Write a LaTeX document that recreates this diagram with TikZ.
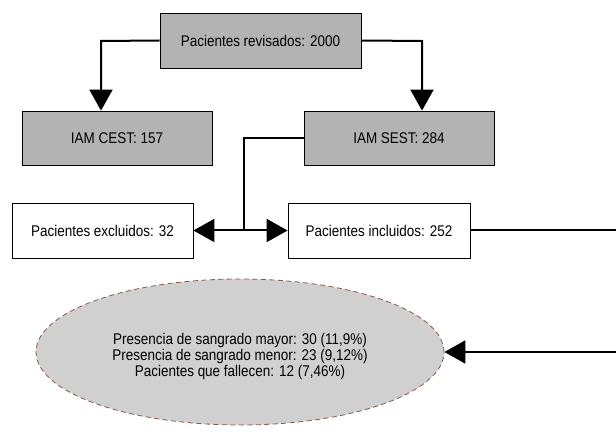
\documentclass[tikz,border=0pt]{standalone}
\usepackage{fontspec}
\usepackage{graphicx}
\setmainfont{Liberation Sans}
\usetikzlibrary{arrows.meta,shapes.geometric}
\definecolor{boxgray}{HTML}{B3B3B3}
\definecolor{ellgray}{HTML}{D0D0D0}
\definecolor{ellborder}{HTML}{8B5A48}
\newcommand{\sqz}[1]{\scalebox{0.87}[1]{#1}}
\tikzset{
  txt/.style={font=\fontsize{15.5}{16}\selectfont},
  graybox/.style={draw=black, line width=0.8pt, fill=boxgray, inner sep=0pt, txt},
  whitebox/.style={draw=black, line width=0.8pt, fill=white, inner sep=0pt, txt},
  conn/.style={draw=black, line width=2pt},
  tip/.style={-{Triangle[length=21pt,width=23pt]}}
}
\begin{document}
\begin{tikzpicture}[x=1pt,y=-1pt]
\path[use as bounding box, clip] (0,0) rectangle (616,435);
\fill[white] (0,0) rectangle (616,435);
\node[graybox, minimum width=201pt, minimum height=55pt] (top) at (260.5,40.5) {\sqz{Pacientes revisados: 2000}};
\node[graybox, minimum width=190pt, minimum height=54pt] (cest) at (117,138) {\sqz{IAM CEST: 157}};
\node[graybox, minimum width=190pt, minimum height=54pt] (sest) at (399,138) {\sqz{IAM SEST: 284}};
\node[whitebox, minimum width=181pt, minimum height=55pt] (excl) at (102.5,230.5) {\sqz{Pacientes excluidos: 32}};
\node[whitebox, minimum width=182pt, minimum height=55pt] (incl) at (379,230.5) {\sqz{Pacientes incluidos: 252}};
\node[ellipse, draw=ellborder, dash pattern=on 5pt off 3.5pt, line width=0.8pt, fill=ellgray, minimum width=408pt, minimum height=146pt, inner sep=0pt, txt] (ell) at (240,352) {\raisebox{-5pt}[\height][\depth]{\begin{tabular}{@{}c@{}}\sqz{Presencia de sangrado mayor: 30 (11,9\%)}\\\sqz{Presencia de sangrado menor: 23 (9,12\%)}\\\sqz{Pacientes que fallecen: 12 (7,46\%)}\end{tabular}}};
\coordinate (a1) at (101,41);
\coordinate (a2) at (422,41);
\coordinate (j) at (244,230.5);
\coordinate (r1) at (620,230.5);
\draw[conn, tip] (top.west) -- (a1) -- (cest.north -| a1);
\draw[conn, tip] (top.east) -- (a2) -- (sest.north -| a2);
\draw[conn] (sest.west) -| (j);
\draw[conn, tip] (j) -- (excl.east);
\draw[conn, tip] (j) -- (incl.west);
\draw[conn, tip] (incl.east) -- (r1) |- (ell.east);
\end{tikzpicture}
\end{document}
